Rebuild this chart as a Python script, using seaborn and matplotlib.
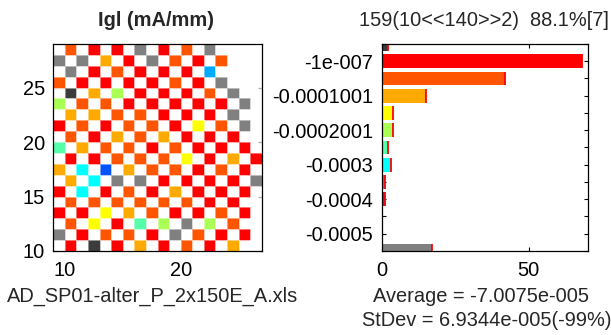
import numpy as np
import pandas as pd
import matplotlib
matplotlib.use("Agg")
import matplotlib.pyplot as plt
import seaborn as sns
from matplotlib.colors import ListedColormap

# ---------------- data ----------------
# cell map, top row first, columns left to right; '.' = empty cell
grid_rows = [
    ".O.R.R.S.R.O.S....",
    "S.S.A.R.S.O.R.O...",
    ".S.R.O.R.R.R.Z....",
    "O.R.R.R.R.O.R.S...",
    ".D.A.G.R.R.R.O.S..",
    "G.O.O.R.R.R.R.R.S.",
    ".A.A.O.O.R.R.R.S..",
    "R.O.R.O.O.R.Y.O.S.",
    ".O.R.A.O.A.R.R.R..",
    "M.A.O.O.R.O.R.R.R.",
    ".R.R.O.O.O.Y.R.A.R",
    "A.C.B.A.O.O.R.O.R.",
    ".A.C.S.S.R.R.R.R.S",
    "R.C.R.O.R.A.R.R.R.",
    ".O.O.O.O.O.O.R.R..",
    "R.R.Y.A.O.R.R.O.R.",
    ".O.Y.R.M.G.S.G.O..",
    "S.R.O.O.R.S.O.R.R.",
    ".R.D.R.A.R.O.R.A..",
]
# column right edges are x = 10..27, row bottom edges are y = 28..10
x_values = list(range(10, 28))
y_values = list(range(28, 9, -1))

level_codes = ["D", "R", "O", "A", "Y", "G", "M", "C", "Z", "B", "N", "K", "S"]
level_colors = ["#3c3c3c", "#ff0000", "#ff5500", "#ffaa00", "#ffff00", "#aaff55",
                "#55ffaa", "#00ffff", "#00aaff", "#0055ff", "#0000ff", "#0000aa", "#808080"]
bar_counts = [2, 68, 42, 15, 4, 4, 2, 3, 1, 1, 0, 0, 17]
bar_labels = ["", "-1e-007", "", "-0.0001001", "", "-0.0002001", "",
              "-0.0003", "", "-0.0004", "", "-0.0005", ""]

map_xticks = [10, 20]
map_yticks = [10, 15, 20, 25]
hist_xticks = [0, 50]

title_left = "Igl (mA/mm)"
title_right = "159(10<<140>>2)  88.1%[7]"
file_label = "AD_SP01-alter_P_2x150E_A.xls"
avg_label = "Average = -7.0075e-005"
std_label = "StDev = 6.9344e-005(-99%)"

# ---------------- style ----------------
sns.set_style("ticks")
plt.rcParams["font.family"] = ["Liberation Sans", "DejaVu Sans"]
FS = 14.4

fig = plt.figure(figsize=(6.11, 3.35), dpi=100)
W, H = 611.0, 335.0

def ax_rect(l, t, r, b):
    return [l / W, 1 - b / H, (r - l) / W, (b - t) / H]

# ---------------- heat map ----------------
ax1 = fig.add_axes(ax_rect(53.3, 44, 261.7, 251))
code_index = {c: i for i, c in enumerate(level_codes)}
mat = np.array([[code_index[ch] if ch != "." else np.nan for ch in row] for row in grid_rows])
df_map = pd.DataFrame(mat, index=y_values, columns=x_values)
sns.heatmap(df_map, cmap=ListedColormap(level_colors), vmin=-0.5, vmax=len(level_codes) - 0.5,
            cbar=False, linewidths=0.7, linecolor=(1, 1, 1, 0.45),
            xticklabels=False, yticklabels=False, ax=ax1)
ax1.set_xticks([x_values.index(v) + 1.0 for v in map_xticks])
ax1.set_xticklabels([str(v) for v in map_xticks])
ax1.set_yticks([y_values.index(v) + 1.0 for v in map_yticks])
ax1.set_yticklabels([str(v) for v in map_yticks], rotation=0)
ax1.set_xlabel("")
ax1.set_ylabel("")

# ---------------- histogram ----------------
ax2 = fig.add_axes(ax_rect(381.7, 44, 588.3, 251))
df_hist = pd.DataFrame({"pos": list(range(len(bar_counts))), "count": bar_counts,
                        "code": level_codes})
sns.barplot(data=df_hist, x="count", y="pos", hue="code", orient="h",
            palette=dict(zip(level_codes, level_colors)), saturation=1,
            width=0.8, linewidth=0, legend=False, dodge=False, ax=ax2)
pos = np.array(df_hist["pos"])
ax2.vlines(bar_counts, pos - 0.4, pos + 0.4, colors="red", lw=1.3)
ax2.set_ylim(len(bar_counts) - 1, 0)
ax2.set_xlim(0, 70.3)
ax2.set_yticks(list(pos))
ax2.set_yticklabels(bar_labels)
ax2.set_xticks(hist_xticks)
ax2.set_xticklabels([str(v) for v in hist_xticks])
ax2.set_xlabel("")
ax2.set_ylabel("")

for ax in (ax1, ax2):
    for s in ax.spines.values():
        s.set_visible(True)
        s.set_color("black")
        s.set_linewidth(0.9)
    ax.tick_params(direction="in", top=True, right=True, length=3, width=0.8,
                   labelsize=FS, colors="black")
    ax.tick_params(axis="y", pad=6)
    ax.tick_params(axis="x", pad=7.5)

# ---------------- texts ----------------
fig.text(156 / W, 1 - 20 / H, title_left, ha="center", va="center",
         fontsize=FS, fontweight="bold")
fig.text(484 / W, 1 - 20 / H, title_right, ha="center", va="center", fontsize=FS)
fig.text(153 / W, 1 - 296 / H, file_label, ha="center", va="center", fontsize=FS)
fig.text(481 / W, 1 - 296 / H, avg_label, ha="center", va="center", fontsize=FS)
fig.text(362 / W, 1 - 320 / H, std_label, ha="left", va="center", fontsize=FS)

fig.savefig("out.png", dpi=100, facecolor="white")
